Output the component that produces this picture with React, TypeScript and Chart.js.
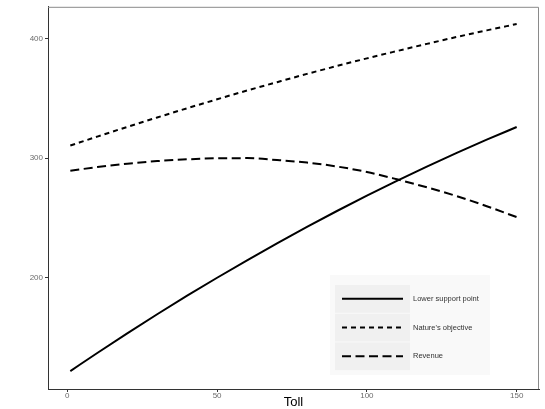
import React, { useEffect, useRef } from 'react';
import { Chart, registerables } from 'chart.js';

Chart.register(...registerables);

// ---- data ----
const TOLL = [1, 10, 20, 30, 40, 50, 60, 70, 80, 90, 100, 110, 120, 130, 140, 150];
const LOWER_SUPPORT = [122.0, 137.1, 153.5, 169.5, 185.0, 200.0, 214.6, 228.8, 242.5, 255.8, 268.6, 281.0, 292.9, 304.4, 315.4, 326.0];
const NATURE_OBJECTIVE = [310.5, 318.0, 326.1, 334.0, 341.7, 349.2, 356.5, 363.5, 370.4, 377.0, 383.4, 389.5, 395.5, 401.3, 406.8, 412.1];
const REVENUE = [289.5, 292.5, 295.3, 297.5, 299.0, 299.9, 300.0, 298.4, 296.3, 293.0, 288.4, 282.3, 275.6, 268.2, 259.8, 250.7];
const SERIES_LABELS = ['Lower support point', "Nature's objective", 'Revenue'];
const X_TICKS = [0, 50, 100, 150];
const Y_TICKS = [200, 300, 400];
const X_TITLE = 'Toll';

const FONT = '"Liberation Sans", Arial, Helvetica, sans-serif';

const toPoints = (ys: number[]) => TOLL.map((x, i) => ({ x, y: ys[i] }));

const panelBorder = {
  id: 'panelBorder',
  beforeDatasetsDraw(chart: any) {
    const { left, right, top, bottom } = chart.chartArea;
    const ctx = chart.ctx;
    ctx.save();
    ctx.strokeStyle = '#8a8a8a';
    ctx.lineWidth = 1;
    ctx.beginPath();
    ctx.moveTo(left, top + 0.5);
    ctx.lineTo(right - 0.5, top + 0.5);
    ctx.lineTo(right - 0.5, bottom);
    ctx.stroke();
    ctx.restore();
  },
};

const insetLegend = {
  id: 'insetLegend',
  afterDraw(chart: any) {
    const ctx = chart.ctx;
    const { left, bottom } = chart.chartArea;
    const bx = left + 282;
    const by = bottom - 114;
    const rowH = 28.7;
    ctx.save();
    ctx.fillStyle = '#f9f9f9';
    ctx.fillRect(bx, by, 160, 100);
    chart.data.datasets.forEach((ds: any, i: number) => {
      const ky = by + 10 + i * rowH;
      ctx.fillStyle = '#f0f0f0';
      ctx.fillRect(bx + 5, ky, 75, rowH - 1);
      const cy = ky + (rowH - 1) / 2;
      ctx.strokeStyle = ds.borderColor;
      ctx.lineWidth = ds.borderWidth;
      ctx.setLineDash(ds.borderDash || []);
      ctx.beginPath();
      ctx.moveTo(bx + 12, cy);
      ctx.lineTo(bx + 73, cy);
      ctx.stroke();
      ctx.setLineDash([]);
      ctx.fillStyle = '#333333';
      ctx.font = `7.5px ${FONT}`;
      ctx.textBaseline = 'middle';
      ctx.textAlign = 'left';
      ctx.fillText(ds.label, bx + 83, cy);
    });
    ctx.restore();
  },
};

export default function App() {
  const canvasRef = useRef<HTMLCanvasElement | null>(null);

  useEffect(() => {
    if (!canvasRef.current) return;
    const chart = new Chart(canvasRef.current, {
      type: 'line',
      data: {
        datasets: [
          {
            label: SERIES_LABELS[0],
            data: toPoints(LOWER_SUPPORT),
            borderColor: '#000000',
            borderWidth: 2,
            borderDash: [],
            pointRadius: 0,
            cubicInterpolationMode: 'monotone',
          },
          {
            label: SERIES_LABELS[1],
            data: toPoints(NATURE_OBJECTIVE),
            borderColor: '#000000',
            borderWidth: 2,
            borderDash: [5, 4],
            pointRadius: 0,
            cubicInterpolationMode: 'monotone',
          },
          {
            label: SERIES_LABELS[2],
            data: toPoints(REVENUE),
            borderColor: '#000000',
            borderWidth: 2,
            borderDash: [9, 4.5],
            pointRadius: 0,
            cubicInterpolationMode: 'monotone',
          },
        ],
      },
      options: {
        animation: false,
        responsive: false,
        layout: { padding: { left: 0, right: 6, top: 3, bottom: 0 } },
        plugins: {
          legend: { display: false },
          tooltip: { enabled: false },
        },
        scales: {
          x: {
            type: 'linear',
            min: -6.45,
            max: 157.45,
            afterBuildTicks: (scale: any) => {
              scale.ticks = X_TICKS.map((v) => ({ value: v }));
            },
            afterFit: (scale: any) => {
              scale.height = 20;
            },
            grid: { drawOnChartArea: false, drawTicks: true, tickLength: 3, tickColor: '#333333' },
            border: { display: true, color: '#333333', width: 1 },
            ticks: {
              color: '#6b6b6b',
              font: { family: FONT, size: 8 },
              padding: -1,
              maxRotation: 0,
              autoSkip: false,
            },
            title: {
              display: true,
              text: X_TITLE,
              color: '#000000',
              font: { family: FONT, size: 13 },
              padding: { top: 0, bottom: -1 },
            },
          },
          y: {
            type: 'linear',
            min: 107,
            max: 426.5,
            afterBuildTicks: (scale: any) => {
              scale.ticks = Y_TICKS.map((v) => ({ value: v }));
            },
            afterFit: (scale: any) => {
              scale.width = 48;
            },
            grid: { drawOnChartArea: false, drawTicks: true, tickLength: 3, tickColor: '#333333' },
            border: { display: true, color: '#333333', width: 1 },
            ticks: {
              color: '#6b6b6b',
              font: { family: FONT, size: 8 },
              padding: 2,
              autoSkip: false,
            },
          },
        },
      },
      plugins: [panelBorder, insetLegend],
    } as any);
    return () => chart.destroy();
  }, []);

  return (
    <div style={{ position: 'absolute', left: 0, top: 0, width: 545, height: 409, background: '#ffffff' }}>
      <canvas ref={canvasRef} width={545} height={409} style={{ display: 'block' }} />
    </div>
  );
}
